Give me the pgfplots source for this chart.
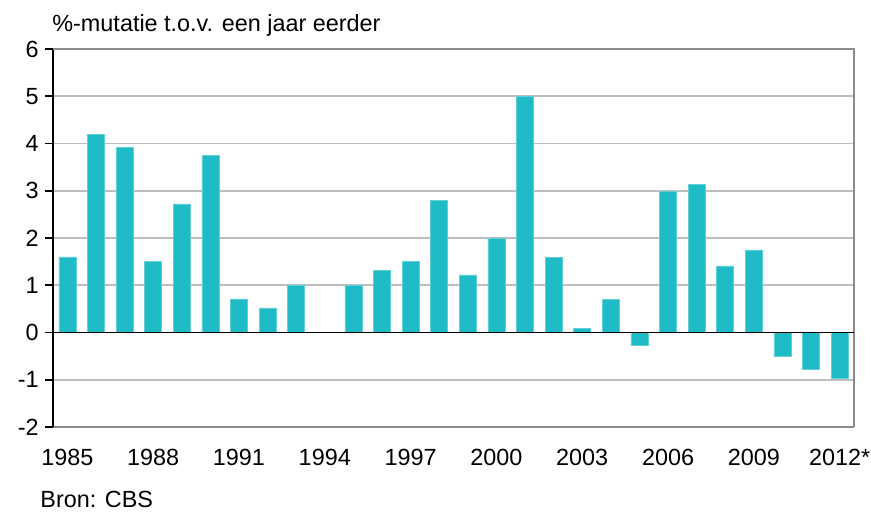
\documentclass[border=0pt]{standalone}
\usepackage{pgfplots}
\pgfplotsset{compat=1.18}
\usepackage{fontspec}
\setmainfont{Liberation Sans}
\definecolor{barteal}{RGB}{31,187,198}
\definecolor{gridgray}{RGB}{190,190,190}
\definecolor{framegray}{RGB}{140,140,140}
\begin{document}
\fontsize{11.7}{14}\selectfont
\begin{tikzpicture}
\begin{axis}[
  at={(0,0)}, anchor=south west,
  scale only axis,
  width=400.5pt, height=189pt,
  xmin=1984.5, xmax=2012.5,
  ymin=-2, ymax=6,
  ytick={-2,-1,0,1,2,3,4,5,6},
  xtick={1985,1988,1991,1994,1997,2000,2003,2006,2009,2012},
  xticklabels={1985,1988,1991,1994,1997,2000,2003,2006,2009,2012*},
  /pgf/number format/assume math mode=true,
  ymajorgrids,
  grid style={gridgray, line width=0.9pt},
  axis line style={framegray, line width=0.9pt},
  axis x line*=bottom,
  axis y line*=left,
  y axis line style={black, line width=0.9pt},
  ytick style={black, line width=0.9pt},
  major tick length=4pt,
  ytick align=outside,
  xtick style={draw=none},
  yticklabel style={font=\fontsize{11.7}{14}\selectfont, inner sep=1pt, xshift=-2pt},
  xticklabel style={font=\fontsize{11.7}{14}\selectfont, yshift=-3pt},
  ybar, bar width=8.5pt,
  clip=false,
]
\addplot[fill=barteal, draw=barteal!70!white, line width=0.3pt] coordinates {
(1985,1.60) (1986,4.20) (1987,3.92) (1988,1.50) (1989,2.72) (1990,3.74)
(1991,0.71) (1992,0.52) (1993,1.00) (1994,0) (1995,1.00) (1996,1.31)
(1997,1.50) (1998,2.80) (1999,1.22) (2000,2.00) (2001,5.00) (2002,1.59)
(2003,0.09) (2004,0.70) (2005,-0.27) (2006,2.99) (2007,3.14) (2008,1.41)
(2009,1.75) (2010,-0.50) (2011,-0.78) (2012,-0.97)
};
\draw[framegray, line width=0.9pt] (rel axis cs:0,1) -- (rel axis cs:1,1) -- (rel axis cs:1,0);
\draw[black, line width=0.9pt] (axis cs:1984.5,0) -- (axis cs:2012.5,0);
\end{axis}
\node[anchor=west, inner sep=0pt] at (-0.5pt,201pt) {\%-mutatie t.o.v. een jaar eerder};
\node[anchor=west, inner sep=0pt] at (-6.5pt,-36pt) {Bron: CBS};
\pgfresetboundingbox
\path (-26.5pt,-42.5pt) rectangle (409pt,213.5pt);
\end{tikzpicture}
\end{document}
